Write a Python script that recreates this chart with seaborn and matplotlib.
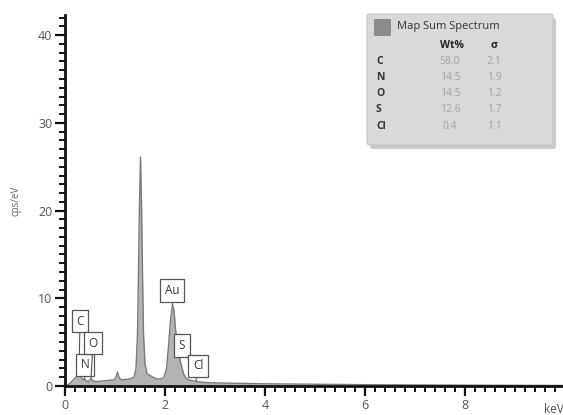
import numpy as np
import pandas as pd
import matplotlib
matplotlib.use("Agg")
import matplotlib.pyplot as plt
import matplotlib.ticker as mtick
from matplotlib.patches import FancyBboxPatch
import seaborn as sns

# spectrum (keV, cps/eV)
energia = [0.00, 0.05, 0.10, 0.15, 0.20, 0.25, 0.28, 0.32, 0.36, 0.39, 0.42, 0.47,
           0.52, 0.56, 0.62, 0.70, 0.80, 0.90, 0.98, 1.02, 1.05, 1.08, 1.12, 1.20,
           1.30, 1.38, 1.42, 1.45, 1.47, 1.49, 1.51, 1.53, 1.55, 1.57, 1.60, 1.64,
           1.70, 1.76, 1.84, 1.92, 1.98, 2.03, 2.07, 2.11, 2.15, 2.18, 2.21, 2.25,
           2.29, 2.33, 2.37, 2.42, 2.48, 2.55, 2.62, 2.70, 2.80, 3.00, 3.50, 4.00,
           5.00, 6.00, 7.00, 8.00, 9.00, 10.0]
cps = [0.0, 0.1, 0.3, 0.6, 0.9, 1.2, 1.3, 1.0, 0.7, 0.8, 0.6, 0.5,
       0.8, 0.6, 0.5, 0.55, 0.6, 0.65, 0.7, 1.0, 1.6, 1.0, 0.7, 0.75,
       0.8, 1.0, 2.0, 6.0, 13.0, 21.0, 26.1, 21.0, 13.0, 6.0, 2.5, 1.4,
       1.2, 1.0, 0.8, 0.8, 1.0, 2.0, 4.5, 7.5, 9.3, 8.6, 6.5, 4.5,
       3.2, 2.3, 1.4, 0.9, 0.7, 0.6, 0.55, 0.45, 0.4, 0.35, 0.3, 0.25,
       0.2, 0.15, 0.12, 0.1, 0.08, 0.06]

# peak labels
rotulos = ["C", "N", "O", "Au", "S", "Cl"]
pico_energia = [0.28, 0.39, 0.52, 2.15, 2.31, 2.62]
pico_cps = [1.3, 0.8, 0.8, 9.3, 3.2, 0.55]

# quantification table
elementos = ["C", "N", "O", "S", "Cl"]
wt = ["58.0", "14.5", "14.5", "12.6", "0.4"]
sigma = ["2.1", "1.9", "1.2", "1.7", "1.1"]

df = pd.DataFrame({"keV": energia, "cps": cps})

W, H = 563, 415


def px(x, y):
    return x / W, 1 - y / H


sns.set_style("white")
plt.rcParams["font.family"] = ["Open Sans", "DejaVu Sans"]

fig = plt.figure(figsize=(W / 100, H / 100), dpi=100)
ax = fig.add_axes([65 / W, 29 / H, 500 / W, 371 / H])

ax.fill_between(df["keV"], df["cps"], color="#b4b4b4", lw=0, zorder=1)
sns.lineplot(data=df, x="keV", y="cps", color="#7a7a7a", lw=1.0,
             estimator=None, sort=False, ax=ax, zorder=2)

# label boxes (position of the box in data coords)
pos_caixa = {"C": (0.30, 7.4), "N": (0.40, 2.4), "O": (0.56, 4.9),
             "Au": (2.14, 10.9), "S": (2.34, 4.6), "Cl": (2.66, 2.3)}
for rot, e, c in zip(rotulos, pico_energia, pico_cps):
    ax.annotate(rot, xy=(e, c), xytext=pos_caixa[rot], ha="center", va="center",
                fontsize=8.5, color="#333333", zorder=4,
                bbox=dict(boxstyle="square,pad=0.4", fc="white", ec="#555555", lw=0.9),
                arrowprops=dict(arrowstyle="-", color="#555555", lw=0.8,
                                shrinkA=0, shrinkB=0))

ax.set_xlim(0, 10)
ax.set_ylim(0, 42.3)
ax.xaxis.set_minor_locator(mtick.MultipleLocator(0.2))
ax.yaxis.set_minor_locator(mtick.MultipleLocator(1))
ax.set_xticks([0, 2, 4, 6, 8])
ax.set_yticks([0, 10, 20, 30, 40])

for lado in ["top", "right"]:
    ax.spines[lado].set_visible(False)
for lado in ["left", "bottom"]:
    ax.spines[lado].set_color("#111111")
    ax.spines[lado].set_linewidth(2)
    ax.spines[lado].set_zorder(5)

ax.tick_params(axis="both", which="major", length=7, width=1.6, color="#111111",
               labelsize=9, labelcolor="#555555", pad=2, direction="out",
               bottom=True, left=True)
ax.tick_params(axis="both", which="minor", length=4, width=1.4, color="#111111",
               direction="out", bottom=True, left=True)
ax.set_xlabel("")
ax.set_ylabel("cps/eV", fontsize=7, color="#666666", labelpad=12)
fig.text(*px(544, 409), "keV", fontsize=8.5, color="#555555", ha="left", va="center")

# legend panel
x0, y0 = px(367, 145)
x1, y1 = px(553, 14)
fig.patches.append(FancyBboxPatch((x0 + 3 / W, y0 - 4 / H), x1 - x0, y1 - y0,
                                  boxstyle="round,pad=0,rounding_size=0.006",
                                  transform=fig.transFigure, fc="#a8a8a8", ec="none",
                                  alpha=0.6, zorder=8))
fig.patches.append(FancyBboxPatch((x0, y0), x1 - x0, y1 - y0,
                                  boxstyle="round,pad=0,rounding_size=0.006",
                                  transform=fig.transFigure, fc="#d9d9d9", ec="#c4c4c4",
                                  lw=0.8, zorder=9))
qx, qy = px(374, 35)
fig.patches.append(plt.Rectangle((qx, qy), 16 / W, 16 / H, transform=fig.transFigure,
                                 fc="#8c8c8c", ec="#7a7a7a", lw=0.5, zorder=10))
fig.text(*px(397, 27), "Map Sum Spectrum", fontsize=8, color="#333333",
         ha="left", va="center", zorder=11)
fig.text(*px(452, 45), "Wt%", fontsize=7.5, color="#222222", fontweight="bold",
         ha="center", va="center", zorder=11)
fig.text(*px(494, 45), "σ", fontsize=7.5, color="#222222", fontweight="bold",
         ha="center", va="center", zorder=11)
for i, (el, w, s) in enumerate(zip(elementos, wt, sigma)):
    y = 62 + i * 16
    fig.text(*px(376, y), el, fontsize=7.5, color="#333333", fontweight="bold",
             ha="left", va="center", zorder=11)
    fig.text(*px(450, y), w, fontsize=7.5, color="#a4a4a4", ha="center", va="center", zorder=11)
    fig.text(*px(494, y), s, fontsize=7.5, color="#a4a4a4", ha="center", va="center", zorder=11)

fig.savefig("out.png", dpi=100)
